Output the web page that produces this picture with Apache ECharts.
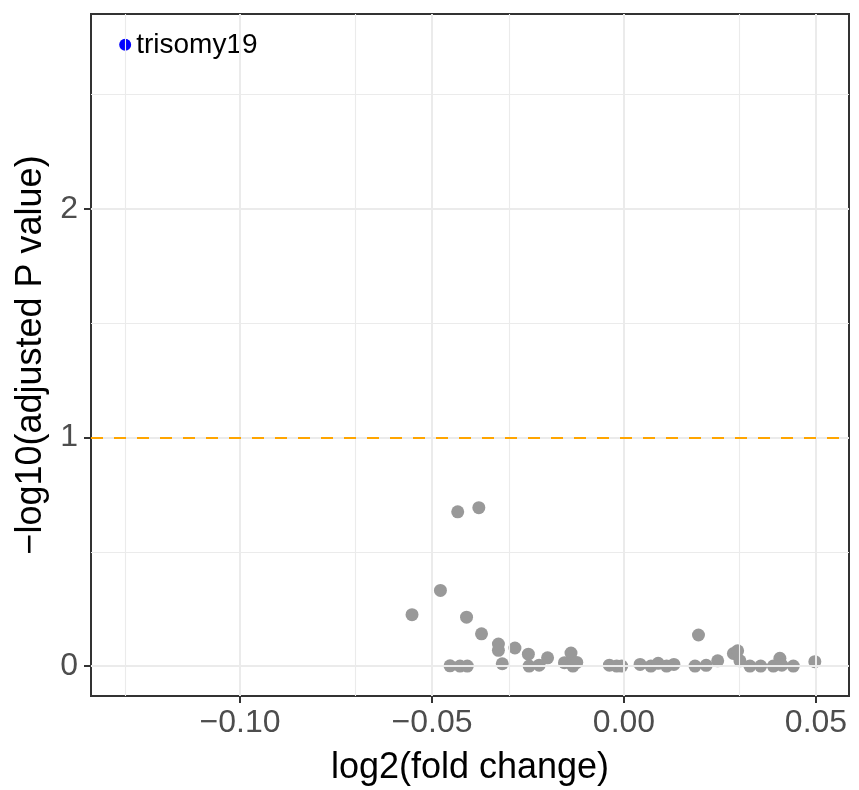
<!DOCTYPE html>
<html>
<head>
<meta charset="utf-8">
<script src="https://cdn.jsdelivr.net/npm/echarts@6/dist/echarts.min.js"></script>
<style>
html,body{margin:0;padding:0;background:#fff;}
#chart{width:859px;height:790px;}
</style>
</head>
<body>
<div id="chart"></div>
<script>
// log2(fold change) values for non-significant features
const foldChange = [
  -0.0552, -0.0478, -0.0453, -0.0433, -0.0427, -0.0410, -0.0408, -0.0378, -0.0371, -0.0327,
  -0.0327, -0.0317, -0.0284, -0.0249, -0.0247, -0.0221, -0.0199, -0.0155, -0.0138, -0.0136,
  -0.0133, -0.0123, -0.0038, -0.0019, -0.0006, 0.0042, 0.0070, 0.0089, 0.0111, 0.0130,
  0.0185, 0.0194, 0.0214, 0.0244, 0.0285, 0.0296, 0.0302, 0.0328, 0.0356, 0.0389,
  0.0406, 0.0411, 0.0441, 0.0497
];
// -log10(adjusted P value) for the same features
const negLogP = [
  0.225, 0.331, 0.001, 0.675, 0.000, 0.214, 0.000, 0.693, 0.141, 0.096,
  0.069, 0.010, 0.079, 0.052, 0.000, 0.004, 0.036, 0.015, 0.057, 0.010,
  0.000, 0.016, 0.004, 0.000, 0.000, 0.007, 0.000, 0.012, 0.000, 0.007,
  0.000, 0.136, 0.003, 0.023, 0.055, 0.067, 0.023, 0.000, 0.000, 0.000,
  0.034, 0.004, 0.000, 0.019
];
// significant feature
const sigNames = ['trisomy19'];
const sigFoldChange = [-0.1299];
const sigNegLogP = [2.718];

const threshold = 1;
const xTicks = [-0.10, -0.05, 0.00, 0.05];
const yTicks = [0, 1, 2];
const xMinorGrid = [-0.125, -0.075, -0.025, 0.025];
const yMinorGrid = [0.5, 1.5, 2.5];
const xRange = [-0.1388, 0.0586];
const yRange = [-0.131, 2.853];

const FONT = "'Liberation Sans', Arial, Helvetica, sans-serif";

const gridLines = [];
xTicks.forEach(v => gridLines.push({xAxis: v, lineStyle: {width: 2}}));
yTicks.forEach(v => gridLines.push({yAxis: v, lineStyle: {width: 2}}));
xMinorGrid.forEach(v => gridLines.push({xAxis: v, lineStyle: {width: 1.1}}));
yMinorGrid.forEach(v => gridLines.push({yAxis: v, lineStyle: {width: 1.1}}));

const fmtX = v => {
  const s = Math.abs(v).toFixed(2);
  return v < -1e-9 ? '\u2212' + s : s;
};

const chart = echarts.init(document.getElementById('chart'), null, {renderer: 'canvas'});
chart.setOption({
  animation: false,
  backgroundColor: '#ffffff',
  grid: {
    left: 91, right: 10, top: 14, bottom: 94,
    outerBoundsMode: 'none',
    containLabel: false,
    show: true, borderColor: '#333333', borderWidth: 2, backgroundColor: 'transparent'
  },
  xAxis: {
    type: 'value',
    min: xRange[0], max: xRange[1],
    name: 'log2(fold change)',
    nameLocation: 'middle',
    nameGap: 54,
    nameTextStyle: {fontFamily: FONT, fontSize: 36, color: '#000000'},
    axisLine: {show: false, onZero: false},
    axisTick: {show: true, inside: false, length: 7, customValues: xTicks,
      lineStyle: {color: '#333333', width: 2}},
    axisLabel: {show: true, customValues: xTicks, formatter: fmtX, margin: 11,
      fontFamily: FONT, fontSize: 32, color: '#4d4d4d'},
    splitLine: {show: false}
  },
  yAxis: {
    type: 'value',
    min: yRange[0], max: yRange[1],
    name: '\u2212log10(adjusted P value)',
    nameLocation: 'middle',
    nameGap: 41,
    nameTextStyle: {fontFamily: FONT, fontSize: 36, color: '#000000'},
    axisLine: {show: false, onZero: false},
    axisTick: {show: true, inside: false, length: 7, customValues: yTicks,
      lineStyle: {color: '#333333', width: 2}},
    axisLabel: {show: true, customValues: yTicks, formatter: v => String(Math.round(v)), margin: 13,
      fontFamily: FONT, fontSize: 32, color: '#4d4d4d'},
    splitLine: {show: false}
  },
  series: [
    {
      type: 'scatter',
      data: [],
      z: 1,
      silent: true,
      markLine: {
        silent: true,
        symbol: ['none', 'none'],
        label: {show: false},
        emphasis: {disabled: true},
        lineStyle: {color: '#ebebeb', type: 'solid'},
        data: gridLines
      }
    },
    {
      type: 'scatter',
      data: [],
      z: 2,
      silent: true,
      markLine: {
        silent: true,
        symbol: ['none', 'none'],
        label: {show: false},
        emphasis: {disabled: true},
        lineStyle: {color: '#FFA500', type: [12, 11], width: 2},
        data: [{yAxis: threshold}]
      }
    },
    {
      type: 'scatter',
      z: 3,
      symbolSize: 13,
      itemStyle: {color: '#999999', opacity: 1},
      data: foldChange.map((x, i) => [x, negLogP[i]])
    },
    {
      type: 'scatter',
      z: 4,
      symbolSize: 12,
      itemStyle: {color: '#0000ff', opacity: 1},
      label: {
        show: true, position: 'right', distance: 5,
        formatter: p => sigNames[p.dataIndex],
        fontFamily: FONT, fontSize: 28, color: '#000000'
      },
      data: sigFoldChange.map((x, i) => [x, sigNegLogP[i]])
    }
  ]
});
</script>
</body>
</html>
